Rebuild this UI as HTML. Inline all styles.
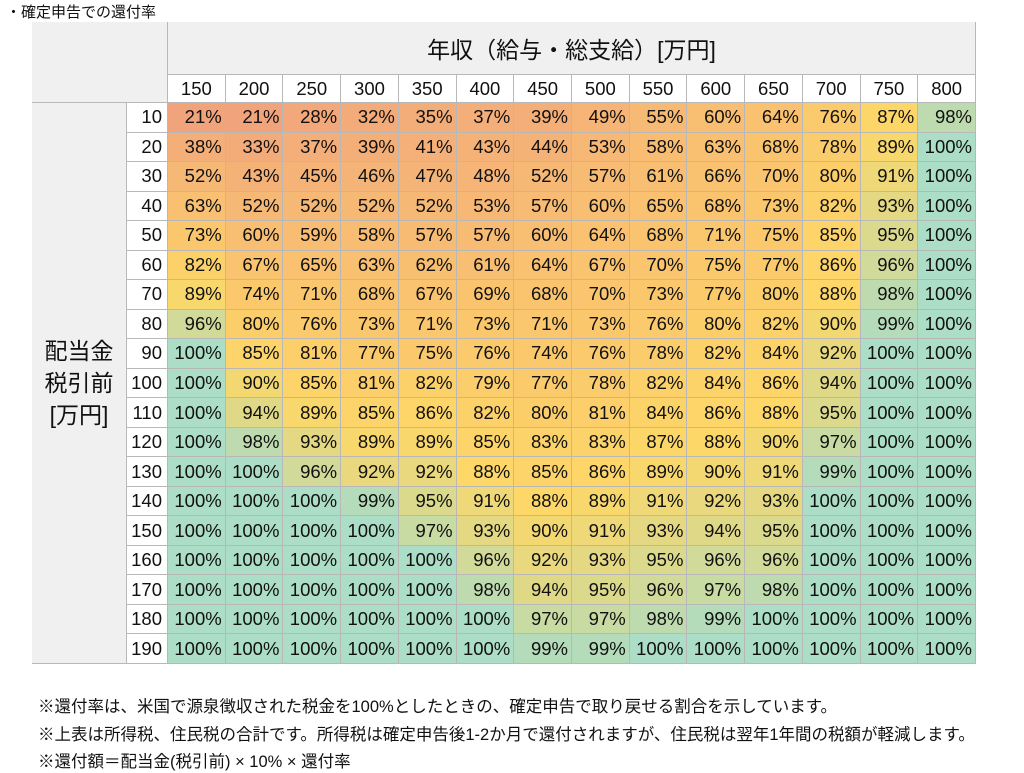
<!DOCTYPE html>
<html><head><meta charset="utf-8"><style>
body{margin:0;width:1024px;height:773px;background:#fff;font-family:"Liberation Sans","Noto Sans CJK JP",sans-serif;color:#111;position:relative;overflow:hidden}
.c{position:absolute;box-sizing:border-box;border-right:1px solid #b8b8b8;border-bottom:1px solid #b8b8b8;display:flex;align-items:center;font-size:18.5px;white-space:nowrap}
.note{position:absolute;left:38px;font-size:16.5px;white-space:nowrap}
</style></head><body>
<div style="position:absolute;left:6px;top:1px;font-size:15px">・確定申告での還付率</div>
<div id="tbl"></div>
<div class="note" style="top:693px">※還付率は、米国で源泉徴収された税金を100%としたときの、確定申告で取り戻せる割合を示しています。</div>
<div class="note" style="top:721px">※上表は所得税、住民税の合計です。所得税は確定申告後1-2か月で還付されますが、住民税は翌年1年間の税額が軽減します。</div>
<div class="note" style="top:748px">※還付額＝配当金(税引前) × 10% × 還付率</div>
<script>
const incomes=[150,200,250,300,350,400,450,500,550,600,650,700,750,800];
const dividends=[10,20,30,40,50,60,70,80,90,100,110,120,130,140,150,160,170,180,190];
const r10=[21,21,28,32,35,37,39,49,55,60,64,76,87,98];
const r20=[38,33,37,39,41,43,44,53,58,63,68,78,89,100];
const r30=[52,43,45,46,47,48,52,57,61,66,70,80,91,100];
const r40=[63,52,52,52,52,53,57,60,65,68,73,82,93,100];
const r50=[73,60,59,58,57,57,60,64,68,71,75,85,95,100];
const r60=[82,67,65,63,62,61,64,67,70,75,77,86,96,100];
const r70=[89,74,71,68,67,69,68,70,73,77,80,88,98,100];
const r80=[96,80,76,73,71,73,71,73,76,80,82,90,99,100];
const r90=[100,85,81,77,75,76,74,76,78,82,84,92,100,100];
const r100=[100,90,85,81,82,79,77,78,82,84,86,94,100,100];
const r110=[100,94,89,85,86,82,80,81,84,86,88,95,100,100];
const r120=[100,98,93,89,89,85,83,83,87,88,90,97,100,100];
const r130=[100,100,96,92,92,88,85,86,89,90,91,99,100,100];
const r140=[100,100,100,99,95,91,88,89,91,92,93,100,100,100];
const r150=[100,100,100,100,97,93,90,91,93,94,95,100,100,100];
const r160=[100,100,100,100,100,96,92,93,95,96,96,100,100,100];
const r170=[100,100,100,100,100,98,94,95,96,97,98,100,100,100];
const r180=[100,100,100,100,100,100,97,97,98,99,100,100,100,100];
const r190=[100,100,100,100,100,100,99,99,100,100,100,100,100,100];
const rates=[r10,r20,r30,r40,r50,r60,r70,r80,r90,r100,r110,r120,r130,r140,r150,r160,r170,r180,r190];
const stops=[[21,[241,164,124]],[50,[246,182,118]],[75,[251,201,108]],[88,[253,215,104]],[95,[218,217,140]],[100,[172,221,198]]];
function color(v){
  if(v<=stops[0][0])return 'rgb('+stops[0][1]+')';
  for(let i=1;i<stops.length;i++){if(v<=stops[i][0]){const a=stops[i-1],b=stops[i];const t=(v-a[0])/(b[0]-a[0]);return 'rgb('+a[1].map((c,k)=>Math.round(c+(b[1][k]-c)*t)).join(',')+')';}}
  return 'rgb('+stops[stops.length-1][1]+')';
}
const X0=32,Y0=22,LW=95,RW=41,H1=53,H2=28,X1=X0+LW+RW,XE=976,YE=664;
const cw=(XE-X1)/incomes.length, rh=(YE-Y0-H1-H2)/dividends.length;
const tbl=document.getElementById('tbl');
function cell(x,y,w,h,txt,bg,just,name,extra){
  const d=document.createElement('div');d.className='c';
  d.style.cssText+=`left:${x}px;top:${y}px;width:${w}px;height:${h}px;background:${bg};justify-content:${just};`+(extra||'');
  d.innerHTML=txt;
  
  
  tbl.appendChild(d);return d;
}
const ob=document.createElement('div');ob.style.cssText=`position:absolute;left:${X0}px;top:${Y0}px;width:${XE-X0}px;height:${YE-Y0}px;border-left:1px solid #b8b8b8;border-top:1px solid #b8b8b8;box-sizing:border-box`;


tbl.appendChild(ob);
cell(X0,Y0,LW+RW,H1+H2,'','#f0f0f0','center','corner-cell');
cell(X1,Y0,XE-X1,H1,'年収（給与・総支給）[万円]','#f0f0f0','center','column-header-title','font-size:23px;');
cell(X0,Y0+H1+H2,LW,YE-Y0-H1-H2,'配当金<br>税引前<br>[万円]','#f0f0f0','center','row-header-title','font-size:23px;line-height:32px;text-align:center;');
incomes.forEach((v,i)=>cell(X1+i*cw,Y0+H1,cw,H2,v,'#fff','center','income-label'));
dividends.forEach((v,j)=>{
  const y=Y0+H1+H2+j*rh;
  cell(X0+LW,y,RW,rh,v,'#fff','flex-end','dividend-label','padding-right:5px;');
  rates[j].forEach((r,i)=>cell(X1+i*cw,y,cw,rh,r+'%',color(r),'flex-end','heatmap-cell','padding-right:3px;'));
});
</script>
</body></html>
